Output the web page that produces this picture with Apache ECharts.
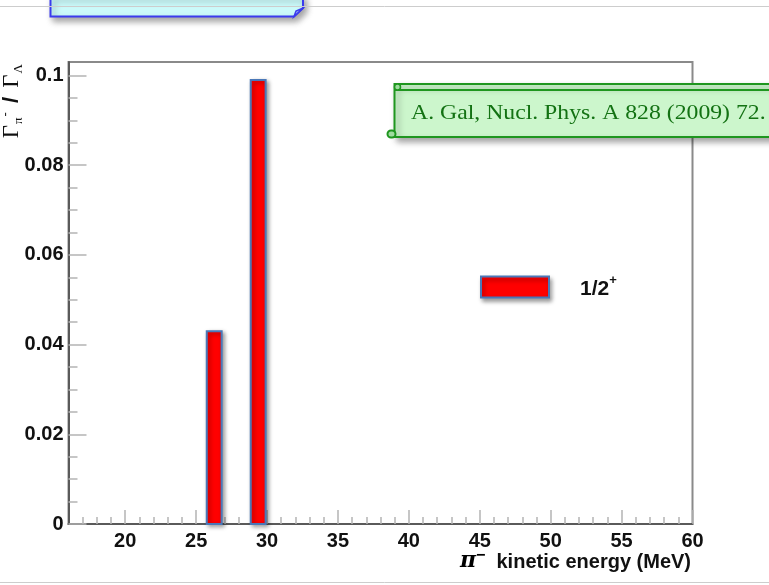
<!DOCTYPE html>
<html>
<head>
<meta charset="utf-8">
<script src="https://cdn.jsdelivr.net/npm/echarts@6/dist/echarts.min.js"></script>
<style>
  html, body { margin: 0; padding: 0; background: #fff; }
  #chart { width: 769px; height: 585px; }
</style>
</head>
<body>
<div id="chart"></div>
<script>
// Histogram bins: pi- kinetic energy (MeV), low / high edge, and branching ratio
const binLow = [25.75, 28.85];
const binHigh = [26.8, 29.9];
const ratio = [0.043, 0.099];

// Axis ticks
const xMajor = [20, 25, 30, 35, 40, 45, 50, 55, 60];
const xMinor = [17, 18, 19, 21, 22, 23, 24, 26, 27, 28, 29, 31, 32, 33, 34, 36, 37, 38, 39,
                41, 42, 43, 44, 46, 47, 48, 49, 51, 52, 53, 54, 56, 57, 58, 59];
const yMajor = [0, 0.02, 0.04, 0.06, 0.08, 0.1];
const yMinor = [0.005, 0.01, 0.015, 0.025, 0.03, 0.035, 0.045, 0.05, 0.055,
                0.065, 0.07, 0.075, 0.085, 0.09, 0.095];

const legendName = '1/2+';
const reference = 'A. Gal, Nucl. Phys. A 828 (2009) 72.';

const binData = binLow.map((lo, i) => [lo, binHigh[i], ratio[i]]);

const chart = echarts.init(document.getElementById('chart'), null, { renderer: 'canvas' });

const labelFont = {
  fontFamily: 'Liberation Sans, Arial, sans-serif',
  fontWeight: 'bold',
  fontSize: 20,
  color: '#111'
};

const barStyle = {
  fill: '#ff0000',
  stroke: '#4a78b8',
  lineWidth: 2,
  shadowBlur: 4,
  shadowOffsetX: 2,
  shadowOffsetY: 2,
  shadowColor: 'rgba(0,0,0,0.35)'
};

const option = {
  backgroundColor: '#fff',
  animation: false,
  grid: {
    left: 68.5, right: 76.5, top: 62, bottom: 61,
    show: true, borderColor: '#8a8a8a', borderWidth: 2, backgroundColor: 'transparent'
  },
  xAxis: [
    {
      type: 'value', min: 16, max: 60, position: 'bottom',
      splitLine: { show: false },
      axisLine: { show: true, onZero: false, lineStyle: { color: '#5a5a5a', width: 2 } },
      axisTick: { show: true, inside: true, length: 14, customValues: xMajor,
                  lineStyle: { color: '#b4b4b4', width: 1.5 } },
      axisLabel: Object.assign({ show: true, customValues: xMajor, margin: 7 }, labelFont)
    },
    {
      type: 'value', min: 16, max: 60, position: 'bottom',
      splitLine: { show: false },
      axisLine: { show: false },
      axisTick: { show: true, inside: true, length: 7, customValues: xMinor,
                  lineStyle: { color: '#b4b4b4', width: 1.5 } },
      axisLabel: { show: false }
    }
  ],
  yAxis: [
    {
      type: 'value', min: 0, max: 0.103, position: 'left',
      splitLine: { show: false },
      axisLine: { show: true, onZero: false, lineStyle: { color: '#5a5a5a', width: 2 } },
      axisTick: { show: true, inside: true, length: 18, customValues: yMajor,
                  lineStyle: { color: '#b4b4b4', width: 1.5 } },
      axisLabel: Object.assign({ show: true, customValues: yMajor, margin: 5,
                                 formatter: v => String(+v.toFixed(3)) }, labelFont)
    },
    {
      type: 'value', min: 0, max: 0.103, position: 'left',
      splitLine: { show: false },
      axisLine: { show: false },
      axisTick: { show: true, inside: true, length: 9, customValues: yMinor,
                  lineStyle: { color: '#b4b4b4', width: 1.5 } },
      axisLabel: { show: false }
    }
  ],
  legend: {
    show: true,
    left: 480, top: 274,
    padding: 0,
    orient: 'vertical',
    itemWidth: 68, itemHeight: 21,
    data: [{
      name: legendName,
      icon: 'rect',
      itemStyle: { color: '#ff0000', borderColor: '#4a78b8', borderWidth: 2,
                   shadowBlur: 4, shadowOffsetX: 2, shadowOffsetY: 3,
                   shadowColor: 'rgba(0,0,0,0.35)' }
    }],
    formatter: () => '{a|1/2}{b|+}',
    textStyle: {
      padding: [0, 0, 0, 26],
      rich: {
        a: { fontFamily: 'Liberation Sans, Arial, sans-serif', fontWeight: 'bold',
             fontSize: 21, color: '#111', lineHeight: 26, verticalAlign: 'bottom' },
        b: { fontFamily: 'Liberation Sans, Arial, sans-serif', fontWeight: 'bold',
             fontSize: 13, color: '#111', lineHeight: 26, verticalAlign: 'top' }
      }
    }
  },
  series: [{
    name: legendName,
    type: 'custom',
    xAxisIndex: 0, yAxisIndex: 0,
    data: binData,
    encode: { x: [0, 1], y: 2 },
    itemStyle: { color: '#ff0000', borderColor: '#4a78b8', borderWidth: 2 },
    renderItem: function (params, api) {
      const topLeft = api.coord([api.value(0), api.value(2)]);
      const bottomRight = api.coord([api.value(1), 0]);
      return {
        type: 'rect',
        shape: {
          x: topLeft[0], y: topLeft[1],
          width: bottomRight[0] - topLeft[0],
          height: bottomRight[1] - topLeft[1]
        },
        style: barStyle
      };
    },
    z: 3
  }],
  graphic: [
    // thin grey rules at the top and bottom of the page
    { type: 'line', shape: { x1: 0, y1: 6.5, x2: 769, y2: 6.5 },
      style: { stroke: '#cdcdcd', lineWidth: 1 }, z: 1 },
    { type: 'line', shape: { x1: 0, y1: 582.5, x2: 769, y2: 582.5 },
      style: { stroke: '#cdcdcd', lineWidth: 1 }, z: 1 },
    // cyan note at the top
    {
      type: 'group', z: 20,
      children: [
        { type: 'polygon',
          shape: { points: [[50.5, -4], [303, -4], [303, 8], [294, 16.5], [50.5, 16.5]] },
          style: { fill: '#cbfafa', stroke: '#3b3bee', lineWidth: 2,
                   shadowBlur: 6, shadowOffsetX: 3, shadowOffsetY: 4,
                   shadowColor: 'rgba(0,0,0,0.35)' } },
        { type: 'polygon',
          shape: { points: [[294, 16.5], [296, 11], [303, 8]] },
          style: { fill: '#9fb9f4', stroke: '#3b3bee', lineWidth: 1.5 } }
      ]
    },
    // green scroll with the reference
    {
      type: 'group', z: 20,
      children: [
        { type: 'rect', shape: { x: 394.5, y: 84, width: 390, height: 53 },
          style: { fill: '#ccf6cc', stroke: '#1f961f', lineWidth: 2,
                   shadowBlur: 6, shadowOffsetX: 3, shadowOffsetY: 4,
                   shadowColor: 'rgba(0,0,0,0.35)' } },
        { type: 'line', shape: { x1: 394.5, y1: 90, x2: 784, y2: 90 },
          style: { stroke: '#1f961f', lineWidth: 2 } },
        { type: 'rect', shape: { x: 394.5, y: 84, width: 6, height: 6, r: 3 },
          style: { fill: '#9fdc9f', stroke: '#1f961f', lineWidth: 1.5 } },
        { type: 'rect', shape: { x: 387.5, y: 130.5, width: 8, height: 7, r: 3.5 },
          style: { fill: '#9fdc9f', stroke: '#1f961f', lineWidth: 2 } },
        { type: 'text', x: 411, y: 113.5, scaleX: 1.13,
          style: { text: reference, fontFamily: 'Liberation Serif, Times New Roman, serif',
                   fontSize: 21, fill: '#137213', verticalAlign: 'middle', align: 'left' } }
      ]
    },
    // x-axis title
    {
      type: 'text', x: 691, y: 560, z: 10,
      style: {
        text: '{p|π}{m|−}{t|  kinetic energy (MeV)}',
        align: 'right', verticalAlign: 'middle',
        rich: {
          p: { fontFamily: 'DejaVu Serif, serif', fontStyle: 'italic', fontWeight: 'bold',
               fontSize: 22, fill: '#000', lineHeight: 24, verticalAlign: 'bottom' },
          m: { fontFamily: 'Liberation Sans, sans-serif', fontWeight: 'bold',
               fontSize: 16, fill: '#000', lineHeight: 24, verticalAlign: 'top' },
          t: { fontFamily: 'Liberation Sans, Arial, sans-serif', fontWeight: 'bold',
               fontSize: 20, fill: '#111', lineHeight: 24, verticalAlign: 'bottom' }
        }
      }
    },
    // y-axis title, rotated
    {
      type: 'text', x: 12, y: 63, rotation: Math.PI / 2, z: 10,
      style: {
        text: '{g|Γ}{s|π}{m|-}{sl| / }{g|Γ}{s|Λ}',
        align: 'right', verticalAlign: 'middle',
        rich: {
          g: { fontFamily: 'Liberation Serif, serif', fontSize: 23, fill: '#111',
               lineHeight: 26, verticalAlign: 'middle' },
          s: { fontFamily: 'Liberation Serif, serif', fontSize: 13, fill: '#111',
               lineHeight: 26, verticalAlign: 'bottom', padding: [0, 1, 0, 1] },
          m: { fontFamily: 'Liberation Sans, sans-serif', fontSize: 13, fill: '#111',
               lineHeight: 26, verticalAlign: 'top' },
          sl: { fontFamily: 'Liberation Sans, sans-serif', fontWeight: 'bold', fontSize: 22,
                fill: '#111', lineHeight: 26, verticalAlign: 'middle', padding: [0, 3, 0, 3] }
        }
      }
    }
  ]
};

chart.setOption(option);
</script>
</body>
</html>
